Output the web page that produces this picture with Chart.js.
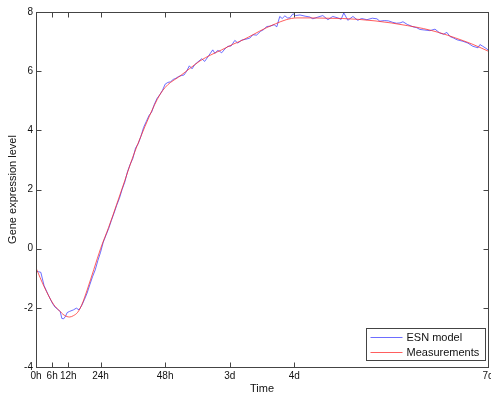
<!DOCTYPE html>
<html>
<head>
<title>Gene expression: ESN model vs measurements</title>
<script src="https://cdn.jsdelivr.net/npm/chart.js"></script>
<style>
  html, body { margin: 0; padding: 0; background: #fff; overflow: hidden; }
  #wrap { width: 500px; height: 396px; }
</style>
</head>
<body>
<div id="wrap"><canvas id="geneChart" width="500" height="396"></canvas></div>
<script>
// x values are hours since start
const tickHours = [0, 6, 12, 24, 48, 72, 96, 168];
const tickLabels = ['0h', '6h', '12h', '24h', '48h', '3d', '4d', '7d'];

// Measurements (smooth red curve)
const measHours = [0, 3, 6.5, 8.5, 10.5, 12.5, 14, 15.5, 17, 19, 21.5, 24, 27, 30, 33, 36, 39, 42, 44, 46,
  48, 50, 53, 57, 61, 65, 69, 73, 77, 81, 85, 89, 93, 97, 102, 108, 114, 120, 126, 132,
  138, 144, 150, 156, 162, 168];
const measValues = [-0.65, -1.28, -1.88, -2.08, -2.25, -2.31, -2.26, -2.15, -1.9, -1.4, -0.7, 0.0, 0.72, 1.5, 2.3, 3.1, 3.8, 4.45, 4.85, 5.2,
  5.45, 5.62, 5.8, 6.08, 6.35, 6.55, 6.72, 6.9, 7.06, 7.25, 7.44, 7.6, 7.74, 7.8, 7.8, 7.79, 7.78, 7.75, 7.7, 7.63,
  7.54, 7.44, 7.3, 7.12, 6.92, 6.68];

// ESN model output (noisy blue curve)
const esnHours = [0, 1, 1.8, 3, 4.5, 6, 7, 8.3, 9, 9.6, 10.3, 11, 11.6, 12.5, 13.9, 15, 16, 17, 18, 19,
  20, 21, 22, 23, 24, 25, 26, 27, 28, 29, 30, 31, 32, 33, 34, 35, 36, 37, 38, 39,
  40, 41, 42, 43, 44, 45, 46, 47, 48, 49, 50, 51, 52, 53, 54, 55, 56, 57, 58, 59,
  60, 61.6, 62.7, 64, 65.7, 66.5, 67.5, 68.3, 69, 70.2, 71.3, 72.5, 73.9, 75, 76.5, 78, 79.5, 80.6, 82, 83.5,
  84.5, 85.8, 87, 88.5, 89.5, 90.6, 91.5, 92.5, 93.5, 94.3, 95.5, 96.5, 98.1, 100, 101.8, 102.9, 104.5, 106.6, 108.5, 110.3,
  112.2, 113.4, 114.4, 115.9, 117.8, 119.6, 121, 123, 125, 126.7, 127.8, 129.5, 131, 132.6, 134, 135.3, 136.4, 138, 140.1, 141.5,
  142.7, 144.5, 146.4, 148.3, 150.1, 151.5, 152.7, 153.9, 155.2, 156.5, 158.7, 160.5, 162.4, 164.3, 165, 166.1, 167.6, 168];
const esnValues = [-0.77, -0.78, -0.8, -1.25, -1.55, -1.83, -1.97, -2.07, -2.12, -2.36, -2.37, -2.28, -2.16, -2.12, -2.07, -2.01, -2.07, -1.92, -1.72, -1.5,
  -1.22, -0.95, -0.72, -0.4, -0.12, 0.22, 0.45, 0.68, 0.95, 1.2, 1.47, 1.7, 2.0, 2.25, 2.6, 2.85, 3.05, 3.4, 3.55, 3.8,
  4.1, 4.3, 4.5, 4.62, 4.88, 5.08, 5.2, 5.35, 5.56, 5.62, 5.64, 5.72, 5.76, 5.82, 5.85, 5.87, 6.0, 6.18, 6.08, 6.22,
  6.3, 6.42, 6.33, 6.5, 6.72, 6.6, 6.7, 6.67, 6.62, 6.75, 6.84, 6.85, 7.04, 6.95, 7.05, 7.08, 7.12, 7.23, 7.22, 7.35,
  7.4, 7.51, 7.52, 7.57, 7.5, 7.85, 7.78, 7.87, 7.8, 7.8, 7.94, 7.88, 7.9, 7.86, 7.83, 7.77, 7.82, 7.88, 7.74, 7.85,
  7.8, 7.75, 7.97, 7.72, 7.85, 7.72, 7.78, 7.74, 7.79, 7.77, 7.69, 7.71, 7.7, 7.65, 7.62, 7.63, 7.67, 7.58, 7.5, 7.47,
  7.41, 7.39, 7.37, 7.42, 7.29, 7.25, 7.31, 7.17, 7.12, 7.06, 7.01, 6.95, 6.84, 6.79, 6.9, 6.84, 6.75, 6.72];

const FONT = '"Liberation Sans", Arial, sans-serif';

// matlab-like box, inward ticks and inset legend
const matlabFrame = {
  id: 'matlabFrame',
  afterDatasetsDraw(chart) {
    const ctx = chart.ctx;
    const a = chart.chartArea;
    const xs = chart.scales.x, ys = chart.scales.y;
    const L = Math.round(a.left) + 0.5, R = Math.round(a.right) + 0.5;
    const T = Math.round(a.top) + 0.5, B = Math.round(a.bottom) + 0.5;
    ctx.save();
    ctx.strokeStyle = '#444';
    ctx.lineWidth = 1;
    ctx.strokeRect(L, T, R - L, B - T);
    ctx.beginPath();
    xs.ticks.forEach(t => {
      const px = Math.round(xs.getPixelForValue(t.value)) + 0.5;
      ctx.moveTo(px, B); ctx.lineTo(px, B - 5);
      ctx.moveTo(px, T); ctx.lineTo(px, T + 5);
    });
    ys.ticks.forEach(t => {
      const py = Math.round(ys.getPixelForValue(t.value)) + 0.5;
      ctx.moveTo(L, py); ctx.lineTo(L + 5, py);
      ctx.moveTo(R, py); ctx.lineTo(R - 5, py);
    });
    ctx.stroke();

    // legend
    const bw = 119, bh = 32;
    const bx = R - 3 - bw, by = B - 7 - bh;
    ctx.fillStyle = '#fff';
    ctx.fillRect(bx, by, bw, bh);
    ctx.strokeStyle = '#444';
    ctx.strokeRect(bx, by, bw, bh);
    ctx.font = '11px ' + FONT;
    ctx.textBaseline = 'middle';
    chart.data.datasets.forEach((ds, i) => {
      const cy = Math.round(by + 8 + i * 15.5) + 0.5;
      ctx.strokeStyle = ds.borderColor;
      ctx.beginPath();
      ctx.moveTo(bx + 4, cy); ctx.lineTo(bx + 36, cy);
      ctx.stroke();
      ctx.fillStyle = '#111';
      ctx.fillText(ds.label, bx + 40, cy);
    });
    ctx.restore();
  }
};

new Chart(document.getElementById('geneChart').getContext('2d'), {
  type: 'line',
  data: {
    datasets: [
      {
        label: 'ESN model',
        data: esnHours.map((h, i) => ({ x: h, y: esnValues[i] })),
        borderColor: 'rgba(60, 60, 255, 0.75)',
        borderWidth: 1,
        pointRadius: 0,
        tension: 0,
        order: 1,
      },
      {
        label: 'Measurements',
        data: measHours.map((h, i) => ({ x: h, y: measValues[i] })),
        borderColor: 'rgba(255, 40, 40, 0.75)',
        borderWidth: 1,
        pointRadius: 0,
        cubicInterpolationMode: 'monotone',
        order: 0,
      },
    ],
  },
  options: {
    responsive: false,
    animation: false,
    layout: { padding: { left: 0, right: 12, top: 12, bottom: 0 } },
    plugins: {
      legend: { display: false },
      tooltip: { enabled: false },
    },
    scales: {
      x: {
        type: 'linear',
        min: 0,
        max: 168,
        afterBuildTicks: s => { s.ticks = tickHours.map(v => ({ value: v })); },
        afterFit: s => { s.height = 29; },
        grid: { display: false, drawTicks: false },
        border: { display: false },
        ticks: {
          autoSkip: false,
          maxRotation: 0,
          padding: 3,
          color: '#111',
          font: { family: FONT, size: 10 },
          callback: v => tickLabels[tickHours.indexOf(v)],
        },
        title: {
          display: true,
          text: 'Time',
          color: '#111',
          padding: { top: 0, bottom: 0 },
          font: { family: FONT, size: 11 },
        },
      },
      y: {
        min: -4,
        max: 8,
        afterFit: s => { s.width = 36; },
        grid: { display: false, drawTicks: false },
        border: { display: false },
        ticks: {
          stepSize: 2,
          padding: 3,
          color: '#111',
          font: { family: FONT, size: 10 },
        },
        title: {
          display: true,
          text: 'Gene expression level',
          color: '#111',
          padding: { top: 6, bottom: 0 },
          font: { family: FONT, size: 11 },
        },
      },
    },
  },
  plugins: [matlabFrame],
});
</script>
</body>
</html>
